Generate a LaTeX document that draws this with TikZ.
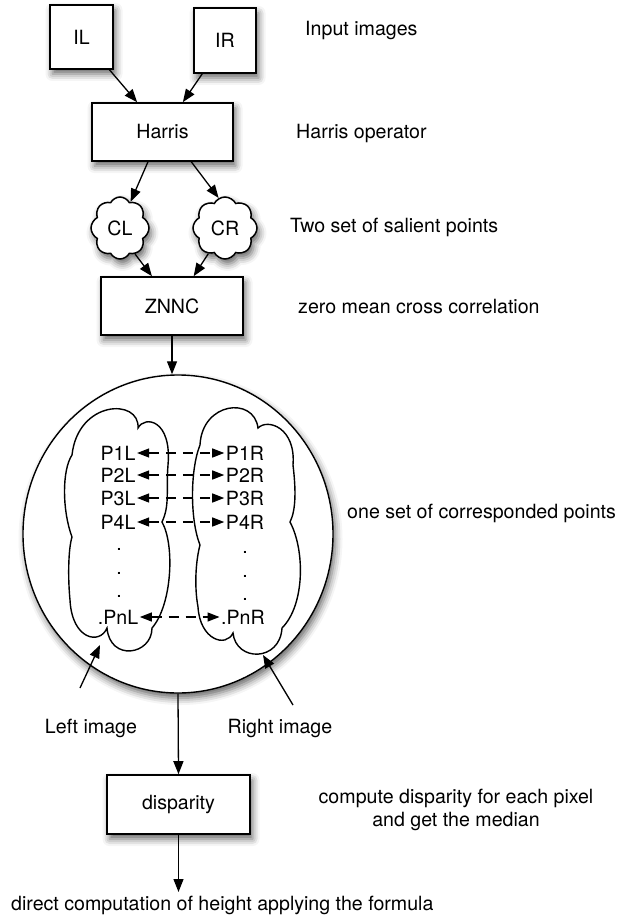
\documentclass[tikz,border=0pt]{standalone}
\usepackage{fontspec}
\setmainfont{TeX Gyre Heros}
\usetikzlibrary{arrows.meta,shapes.geometric,shapes.symbols,shadows.blur,calc}

\tikzset{
  every node/.style={font=\fontsize{19.6}{23.5}\selectfont},
  softshadow/.style={blur shadow={shadow xshift=2.5pt,shadow yshift=-5pt,shadow blur radius=7pt,shadow opacity=60}},
  stagebox/.style={draw=black,line width=1.6pt,fill=white,inner sep=0pt,softshadow},
  puff/.style={cloud,cloud puffs=8,cloud puff arc=125,aspect=1,draw=black,line width=1.5pt,fill=white,inner sep=0pt,softshadow},
  flow/.style={line width=1.3pt,-{Triangle[length=13pt,width=10pt]}},
  match/.style={line width=1.3pt,dash pattern=on 10pt off 7pt,{Triangle[length=12pt,width=9pt]}-{Triangle[length=12pt,width=9pt]}},
  outline/.style={line width=1.4pt,draw=black},
  note/.style={inner sep=0pt,anchor=west},
}

\begin{document}
\begin{tikzpicture}[x=1pt,y=-1pt]
\useasboundingbox (0,0) rectangle (625,917);

% input images and Harris stage
\node[stagebox,minimum width=63pt,minimum height=64pt] (il) at (81.5,37) {IL};
\node[stagebox,minimum width=62pt,minimum height=65pt] (ir) at (225,40.5) {IR};
\node[stagebox,minimum width=141pt,minimum height=58pt] (harris) at (162.5,132) {Harris};

% salient point sets
\node[puff,minimum width=58pt,minimum height=62pt] (cl) at (120,228) {CL};
\node[puff,minimum width=64pt,minimum height=62pt] (cr) at (225,228) {CR};

% correlation stage
\node[stagebox,minimum width=142pt,minimum height=58pt] (znnc) at (172,306) {ZNNC};

% set of corresponded points
\node[ellipse,outline,fill=white,minimum width=310pt,minimum height=318pt,inner sep=0pt,softshadow] (corr) at (178,534) {};

% left and right point clouds inside the set
\draw[outline] (72,455)
  .. controls (78,400) and (140,398) .. (138,428)
  .. controls (145,415) and (172,420) .. (168,465)
  .. controls (166,490) and (170,505) .. (162,522)
  .. controls (175,545) and (172,605) .. (152,628)
  .. controls (152,655) and (110,662) .. (107,628)
  .. controls (100,645) and (72,640) .. (70,600)
  .. controls (68,580) and (68,550) .. (72,537)
  .. controls (62,510) and (62,470) .. cycle;
\draw[outline] (200,445)
  .. controls (202,402) and (254,396) .. (258,428)
  .. controls (268,418) and (296,428) .. (293,465)
  .. controls (296,490) and (296,510) .. (290,522)
  .. controls (305,550) and (305,605) .. (282,628)
  .. controls (280,662) and (236,662) .. (233,633)
  .. controls (226,648) and (200,640) .. (198,607)
  .. controls (194,585) and (196,560) .. (200,545)
  .. controls (190,520) and (190,470) .. cycle;

% point labels
\foreach \i/\y in {1/453,2/475,3/498,4/522}{
  \node[inner sep=1.5pt] (p\i l) at (118,\y) {P\i L};
  \node[inner sep=1.5pt] (p\i r) at (245,\y) {P\i R};
  \draw[match] (p\i l.east) -- (p\i r.west);
}
\node[inner sep=1.5pt] (pnl) at (118,617) {.PnL};
\node[inner sep=1.5pt] (pnr) at (243,617) {.PnR};
\draw[match] (pnl.east) -- (pnr.west);
\foreach \y [count=\k] in {550,574,597}{
  \node[inner sep=0pt,anchor=base] (ldot\k) at (119,\y) {.};
  \node[inner sep=0pt,anchor=base] (rdot\k) at (245,\y+3) {.};
}

% image pointers
\node (leftlbl) at (91,728) {Left image};
\node (rightlbl) at (280,728) {Right image};
\coordinate (lefttail) at (80,688);
\coordinate (lefttip) at (100,645);
\coordinate (righttail) at (293,705);
\coordinate (righttip) at (263,655);
\draw[flow] (lefttail) -- (lefttip);
\draw[flow] (righttail) -- (righttip);

% disparity stage
\node[stagebox,minimum width=143pt,minimum height=59pt] (disp) at (178.5,804.5) {disparity};
\coordinate (result) at (178.5,892);
\node[note] (formula) at (11,905) {direct computation of height applying the formula};

% connectors
\draw[flow] (il) -- (harris);
\draw[flow] (ir) -- (harris);
\draw[flow] (harris.-116.6) -- (cl.68);
\draw[flow] (harris.-46.5) -- (cr.102);
\draw[flow] (cl.-60) -- (znnc.124.6);
\draw[flow] (cr.-123.7) -- (znnc.54);
\draw[flow] (znnc.south) -- (znnc.south |- corr.north);
\draw[flow] (corr.south) -- (disp.north);
\draw[flow] (disp.south) -- (result);

% stage descriptions
\node[note] (d1) at (305,30) {Input images};
\node[note] (d2) at (296,133) {Harris operator};
\node[note] (d3) at (290,227) {Two set of salient points};
\node[note] (d4) at (298,307) {zero mean cross correlation};
\node[note] (d5) at (347,513) {one set of corresponded points};
\node[align=center,inner sep=0pt] (d6) at (456,810) {compute disparity for each pixel\\and get the median};
\end{tikzpicture}
\end{document}
